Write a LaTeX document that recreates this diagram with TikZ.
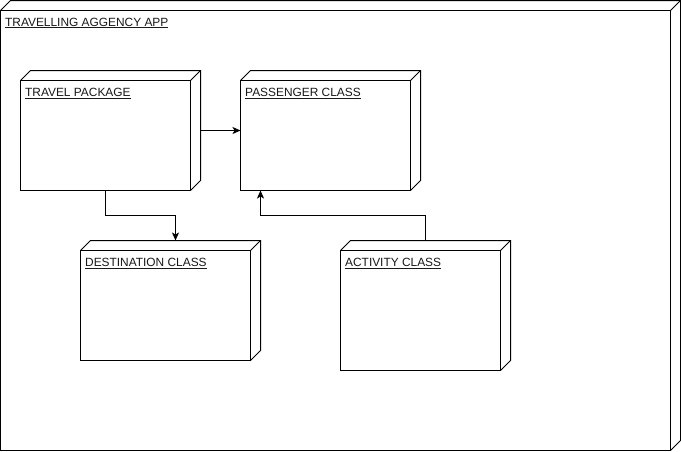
\documentclass[tikz,border=0pt]{standalone}
\usepackage{fontspec}
\setmainfont{Liberation Sans}
\usetikzlibrary{arrows.meta,calc}
\tikzset{
  face/.style={draw, line width=1pt, fill=white, inner sep=0pt, outer sep=0pt, anchor=north west},
  whole/.style={inner sep=0pt, outer sep=0pt, anchor=north west},
  lbl/.style={anchor=base west, inner sep=0pt, font=\fontsize{11.9}{14}\selectfont, text=black!90},
  conn/.style={line width=1pt, -{Stealth[length=8pt,width=7pt,inset=2pt]}},
}
\newcommand\depthbox[1]{%
  \draw[line width=1pt, line join=miter] (#1.north west) -- ++(10,-10) -- ($(#1.north east)+(10,-10)$) -- ($(#1.south east)+(10,-10)$) -- (#1.south east);
  \draw[line width=1pt] (#1.north east) -- ++(10,-10);}
\begin{document}
\begin{tikzpicture}[x=1pt,y=-1pt]
\useasboundingbox (0,0) rectangle (681,451);
% outer application node
\node[face, minimum width=670pt, minimum height=440pt] (app) at (0.5,10.5) {};
\depthbox{app}
\node[lbl] (applbl) at ($(app.north west)+(4.5,15.5)$) {\underline{TRAVELLING AGGENCY APP}};
% inner nodes
\node[face, minimum width=170pt, minimum height=110pt] (tp) at (20.5,80.5) {};
\node[whole, minimum width=180pt, minimum height=120pt] (tpx) at (20.5,70.5) {};
\depthbox{tp}
\node[lbl] (tplbl) at ($(tp.north west)+(4.5,16)$) {\underline{TRAVEL PACKAGE}};
\node[face, minimum width=170pt, minimum height=110pt] (px) at (240.5,80.5) {};
\node[whole, minimum width=180pt, minimum height=120pt] (pxx) at (240.5,70.5) {};
\depthbox{px}
\node[lbl] (pxlbl) at ($(px.north west)+(4.5,16)$) {\underline{PASSENGER CLASS}};
\node[face, minimum width=170pt, minimum height=110pt] (dst) at (80.5,250.5) {};
\node[whole, minimum width=180pt, minimum height=120pt] (dstx) at (80.5,240.5) {};
\depthbox{dst}
\node[lbl] (dstlbl) at ($(dst.north west)+(4.5,16)$) {\underline{DESTINATION CLASS}};
\node[face, minimum width=160pt, minimum height=120pt] (act) at (340.5,250.5) {};
\node[whole, minimum width=170pt, minimum height=130pt] (actx) at (340.5,240.5) {};
\depthbox{act}
\node[lbl] (actlbl) at ($(act.north west)+(4.5,16)$) {\underline{ACTIVITY CLASS}};
% connectors
\coordinate (dstin) at ($(dstx.north west)+(95,0)$);
\coordinate (pxin) at ($(px.south west)+(20,0)$);
\draw[conn] (tpx.east) -- (pxx.west);
\draw[conn] (tp.south) |- ($(dstin)+(0,-25)$) -- (dstin);
\draw[conn] (actx.north) |- ($(pxin)+(0,25)$) -- (pxin);
\end{tikzpicture}
\end{document}
